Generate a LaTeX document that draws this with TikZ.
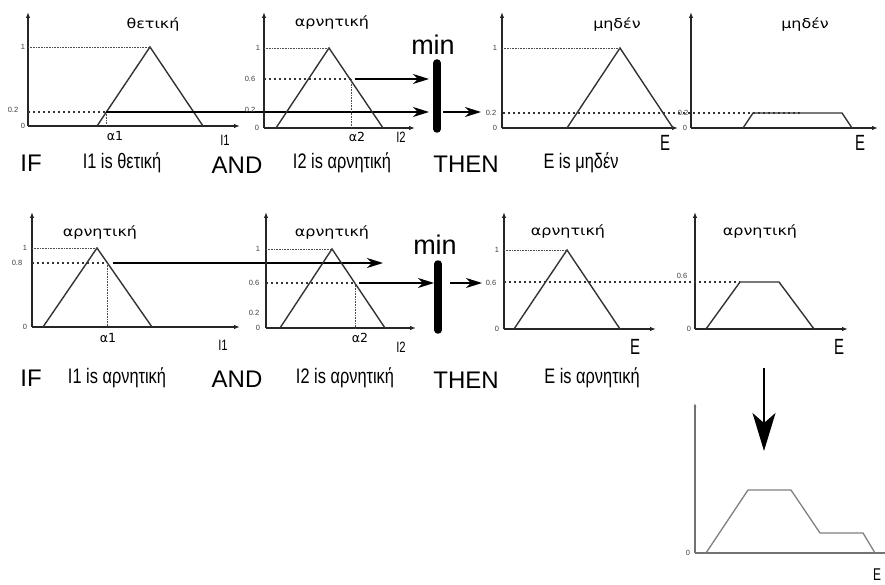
\documentclass[tikz,border=0pt]{standalone}
\usepackage{fontspec}
\setmainfont{Liberation Sans}
\newfontfamily\dvs{DejaVu Sans}
\usetikzlibrary{arrows.meta}
\tikzset{
  ax/.style={line width=1.2pt,black!85,-{Latex[length=6pt,width=4.5pt]}},
  mf/.style={line width=1.4pt,black!80,line join=miter},
  dotln/.style={line width=0.7pt,black!70,dash pattern=on 0.8pt off 0.8pt},
  dsh/.style={line width=1.2pt,black!80,dash pattern=on 2pt off 3pt},
  arr/.style={line width=1.3pt,black,-{Stealth[length=16pt,width=10pt,inset=5pt]}},
  minbar/.style={line width=7.5pt,black,line cap=round},
  tck/.style={font=\fontsize{7.5}{8}\selectfont,black!75,inner sep=0pt},
  ttl/.style={font=\dvs\fontsize{13.5}{15}\selectfont,xscale=1.18,inner sep=0pt},
  big/.style={font=\fontsize{24}{28}\selectfont,inner sep=0pt},
  rule/.style={font=\fontsize{21}{24}\selectfont,xscale=0.78,inner sep=0pt},
  axl/.style={font=\fontsize{15}{17}\selectfont,xscale=0.75,inner sep=0pt},
  axlE/.style={font=\fontsize{22}{24}\selectfont,xscale=0.68,inner sep=0pt},
  alab/.style={font=\dvs\fontsize{12.5}{14}\selectfont,inner sep=0pt},
  minlab/.style={font=\fontsize{27}{30}\selectfont,inner sep=0pt},
  grayln/.style={line width=1.3pt,black!50}
}
\begin{document}
\begin{tikzpicture}[x=1pt,y=-1pt]
\useasboundingbox (0,0) rectangle (885,585);
% ================= Row 1 =================
% Panel 1
\coordinate (o1) at (28,126); \coordinate (ya1) at (28,12); \coordinate (xa1) at (240,126);
\draw[ax] (o1) -- (ya1); \draw[ax] (o1) -- (xa1);
\coordinate (p1a) at (97,126); \coordinate (p1b) at (150,47); \coordinate (p1c) at (203,126);
\draw[mf] (p1a) -- (p1b) -- (p1c);
\coordinate (p1one) at (28,47);
\draw[dotln] (p1one) -- (p1b);
\coordinate (p1y) at (28,112); \coordinate (p1i) at (106,112); \coordinate (p1ib) at (106,126);
\draw[dsh] (p1y) -- (p1i);
\draw[dotln] (p1i) -- (p1ib);
\coordinate (m1low) at (429,112);
\draw[arr] (p1i) -- (m1low);
\node[tck] (l1a) at (23,47) {1};
\node[tck] (l1b) at (13,110) {0.2};
\node[tck] (l1c) at (23,126) {0};
\node[ttl] (t1) at (153,25) {θετική};
\node[alab] (a1) at (115,136) {α1};
\node[axl] (x1l) at (225,140) {I1};
% Panel 2
\coordinate (o2) at (264,128); \coordinate (ya2) at (264,12); \coordinate (xa2) at (415,128);
\draw[ax] (o2) -- (ya2); \draw[ax] (o2) -- (xa2);
\coordinate (p2a) at (276,128); \coordinate (p2b) at (329,48); \coordinate (p2c) at (383,128);
\draw[mf] (p2a) -- (p2b) -- (p2c);
\coordinate (p2one) at (264,48);
\draw[dotln] (p2one) -- (p2b);
\coordinate (p2y) at (264,79); \coordinate (p2i) at (351,79); \coordinate (p2ib) at (351,128);
\draw[dsh] (p2y) -- (p2i);
\draw[dotln] (p2i) -- (p2ib);
\coordinate (p2s) at (355,79); \coordinate (m1up) at (429,79);
\draw[arr] (p2s) -- (m1up);
\node[tck] (l2a) at (258,48) {1};
\node[tck] (l2b) at (250,79) {0.6};
\node[tck] (l2c) at (250,110) {0.2};
\node[tck] (l2d) at (257,128) {0};
\node[ttl] (t2) at (332,23) {αρνητική};
\node[alab] (a2) at (357,137) {α2};
\node[axl] (x2l) at (401,137) {I2};
% min 1
\coordinate (b1t) at (437,63); \coordinate (b1b) at (437,129);
\draw[minbar] (b1t) -- (b1b);
\node[minlab] (min1) at (433,45) {min};
\coordinate (b1o) at (443,112); \coordinate (p3in) at (481,112);
\draw[arr] (b1o) -- (p3in);
% Panel 3
\coordinate (o3) at (502,128); \coordinate (ya3) at (502,12); \coordinate (xa3) at (678,128);
\draw[ax] (o3) -- (ya3); \draw[ax] (o3) -- (xa3);
\coordinate (p3a) at (567,128); \coordinate (p3b) at (620,48); \coordinate (p3c) at (673,128);
\draw[mf] (p3a) -- (p3b) -- (p3c);
\coordinate (p3one) at (502,48);
\draw[dotln] (p3one) -- (p3b);
\node[tck] (l3a) at (495,48) {1};
\node[tck] (l3b) at (491,113) {0.2};
\node[tck] (l3c) at (495,128) {0};
\node[ttl] (t3) at (617,25) {μηδέν};
\node[axlE] (x3l) at (665,143) {E};
% Panel 4
\coordinate (o4) at (691,128); \coordinate (ya4) at (691,12); \coordinate (xa4) at (878,128);
\draw[ax] (o4) -- (ya4); \draw[ax] (o4) -- (xa4);
\coordinate (p4a) at (743,128); \coordinate (p4b) at (753,113); \coordinate (p4c) at (842,113); \coordinate (p4d) at (852,128);
\draw[mf] (p4a) -- (p4b) -- (p4c) -- (p4d);
\coordinate (p3y) at (503,113); \coordinate (p4e) at (800,113);
\draw[dsh] (p3y) -- (p4e);
\node[tck] (l4b) at (683,113) {0.2};
\node[tck] (l4c) at (685,128) {0};
\node[ttl] (t4) at (805,25) {μηδέν};
\node[axlE] (x4l) at (860,143) {E};
% Row 1 text
\node[big] (if1) at (31,163) {IF};
\node[rule] (r1a) at (122,163) {I1 is θετική};
\node[big] (and1) at (237,165) {AND};
\node[rule] (r1b) at (342,163) {I2 is αρνητική};
\node[big] (then1) at (466,164) {THEN};
\node[rule] (r1c) at (581,163) {E is μηδέν};
% ================= Row 2 =================
% Panel 5
\coordinate (o5) at (32,327); \coordinate (ya5) at (32,212); \coordinate (xa5) at (240,327);
\draw[ax] (o5) -- (ya5); \draw[ax] (o5) -- (xa5);
\coordinate (p5a) at (43,327); \coordinate (p5b) at (97,248); \coordinate (p5c) at (152,327);
\draw[mf] (p5a) -- (p5b) -- (p5c);
\coordinate (p5one) at (32,248);
\draw[dotln] (p5one) -- (p5b);
\coordinate (p5y) at (32,263); \coordinate (p5i) at (107,263); \coordinate (p5ib) at (107,327);
\draw[dsh] (p5y) -- (p5i);
\draw[dotln] (p5i) -- (p5ib);
\coordinate (p5s) at (113,263); \coordinate (m2up) at (383,263);
\draw[arr] (p5s) -- (m2up);
\node[tck] (l5a) at (25,248) {1};
\node[tck] (l5b) at (17,263) {0.8};
\node[tck] (l5c) at (25,327) {0};
\node[ttl] (t5) at (100,233) {αρνητική};
\node[alab] (a5) at (108,338) {α1};
\node[axl] (x5l) at (223,345) {I1};
% Panel 6
\coordinate (o6) at (266,328); \coordinate (ya6) at (266,212); \coordinate (xa6) at (416,328);
\draw[ax] (o6) -- (ya6); \draw[ax] (o6) -- (xa6);
\coordinate (p6a) at (280,328); \coordinate (p6b) at (332,249); \coordinate (p6c) at (385,328);
\draw[mf] (p6a) -- (p6b) -- (p6c);
\coordinate (p6one) at (266,249);
\draw[dotln] (p6one) -- (p6b);
\coordinate (p6y) at (266,283); \coordinate (p6i) at (355,283); \coordinate (p6ib) at (355,328);
\draw[dsh] (p6y) -- (p6i);
\draw[dotln] (p6i) -- (p6ib);
\coordinate (p6s) at (359,283); \coordinate (m2low) at (434,283);
\draw[arr] (p6s) -- (m2low);
\node[tck] (l6a) at (258,249) {1};
\node[tck] (l6b) at (254,283) {0.6};
\node[tck] (l6c) at (254,313) {0.2};
\node[tck] (l6d) at (258,328) {0};
\node[ttl] (t6) at (332,233) {αρνητική};
\node[alab] (a6) at (360,338) {α2};
\node[axl] (x6l) at (401,347) {I2};
% min 2
\coordinate (b2t) at (438,264); \coordinate (b2b) at (438,330);
\draw[minbar] (b2t) -- (b2b);
\node[minlab] (min2) at (435,245) {min};
\coordinate (b2o) at (450,283); \coordinate (p7in) at (482,283);
\draw[arr] (b2o) -- (p7in);
% Panel 7
\coordinate (o7) at (504,329); \coordinate (ya7) at (504,212); \coordinate (xa7) at (656,329);
\draw[ax] (o7) -- (ya7); \draw[ax] (o7) -- (xa7);
\coordinate (p7a) at (514,329); \coordinate (p7b) at (567,250); \coordinate (p7c) at (620,329);
\draw[mf] (p7a) -- (p7b) -- (p7c);
\coordinate (p7one) at (504,250);
\draw[dotln] (p7one) -- (p7b);
\node[tck] (l7a) at (497,250) {1};
\node[tck] (l7b) at (491,283) {0.6};
\node[tck] (l7c) at (497,329) {0};
\node[ttl] (t7) at (568,232) {αρνητική};
\node[axlE] (x7l) at (635,347) {E};
% Panel 8
\coordinate (o8) at (695,329); \coordinate (ya8) at (695,212); \coordinate (xa8) at (848,329);
\draw[ax] (o8) -- (ya8); \draw[ax] (o8) -- (xa8);
\coordinate (p8a) at (706,329); \coordinate (p8b) at (740,282); \coordinate (p8c) at (779,282); \coordinate (p8d) at (814,329);
\draw[mf] (p8a) -- (p8b) -- (p8c) -- (p8d);
\coordinate (p7y) at (504,282);
\draw[dsh] (p7y) -- (p8b);
\node[tck] (l8b) at (682,276) {0.6};
\node[tck] (l8c) at (689,329) {0};
\node[ttl] (t8) at (760,232) {αρνητική};
\node[axlE] (x8l) at (839,347) {E};
% Row 2 text
\node[big] (if2) at (31,378) {IF};
\node[rule] (r2a) at (117,378) {I1 is αρνητική};
\node[big] (and2) at (237,379) {AND};
\node[rule] (r2b) at (345,378) {I2 is αρνητική};
\node[big] (then2) at (466,380) {THEN};
\node[rule] (r2c) at (592,378) {E is αρνητική};
% ================= Aggregation =================
\coordinate (dA) at (764,368); \coordinate (dB) at (764,451);
\draw[line width=1.5pt,black,-{Stealth[length=38pt,width=23pt,inset=10pt]}] (dA) -- (dB);
\coordinate (o9) at (695,553); \coordinate (ya9) at (695,403); \coordinate (xa9) at (885,553);
\draw[line width=1.1pt,black!55,-{Latex[length=4pt,width=3pt]}] (o9) -- (ya9);
\draw[line width=1.1pt,black!55] (o9) -- (xa9);
\coordinate (p9a) at (706,553); \coordinate (p9b) at (748,490); \coordinate (p9c) at (791,490);
\coordinate (p9d) at (820,533); \coordinate (p9e) at (863,533); \coordinate (p9f) at (875,553);
\draw[grayln] (p9a) -- (p9b) -- (p9c) -- (p9d) -- (p9e) -- (p9f);
\node[tck] (l9c) at (688,553) {0};
\node[inner sep=0pt,font=\fontsize{17}{19}\selectfont,xscale=0.7] (x9l) at (877,575) {E};
\end{tikzpicture}
\end{document}
